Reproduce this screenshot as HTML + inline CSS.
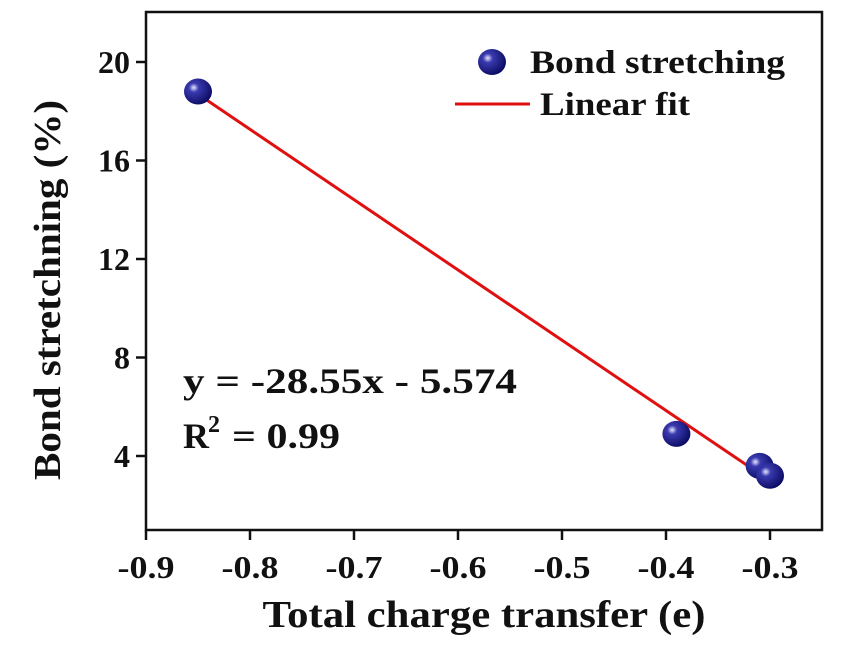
<!DOCTYPE html>
<html><head><meta charset="utf-8"><style>body{margin:0;background:#fff}svg{display:block}text{font-family:"Liberation Serif",serif;font-weight:bold;fill:#111}</style></head>
<body>
<svg id="c" width="862" height="654">
<defs><radialGradient id="g" cx="0.35" cy="0.35" r="0.7"><stop offset="0" stop-color="#e8e8ff"/><stop offset="0.25" stop-color="#3a3ab0"/><stop offset="1" stop-color="#0a0a60"/></radialGradient></defs>
<g id="plot"></g>
</svg>
<script>
const xs=[-0.85,-0.39,-0.31,-0.30];
const ys=[18.8,4.9,3.6,3.2];
const xTicks=[-0.9,-0.8,-0.7,-0.6,-0.5,-0.4,-0.3];
const yTicks=[4,8,12,16,20];
const slope=-28.55, intercept=-5.574;
const X=v=>146+(v+0.9)*(770-146)/0.6;
const Y=v=>456-(v-4)*(456-62)/16;
const NS='http://www.w3.org/2000/svg';
const p=document.getElementById('plot');
function mk(t,a,txt){const e=document.createElementNS(NS,t);for(const k in a)e.setAttribute(k,a[k]);if(txt!==undefined)e.textContent=txt;p.appendChild(e);return e;}
let e=mk('rect',{x:146,y:12,width:676,height:518,fill:'none',stroke:'#111','stroke-width':2.5});

xTicks.forEach(t=>{let l=mk('line',{x1:X(t),x2:X(t),y1:530,y2:540,stroke:'#111','stroke-width':2.5});

let s=mk('text',{x:X(t),y:578,'font-size':32,'text-anchor':'middle',textLength:57,lengthAdjust:'spacingAndGlyphs'},t.toFixed(1));
});
yTicks.forEach(t=>{let l=mk('line',{x1:136,x2:146,y1:Y(t),y2:Y(t),stroke:'#111','stroke-width':2.5});

let s=mk('text',{x:130,y:Y(t)+11,'font-size':32,'text-anchor':'end'},String(t));
});
e=mk('text',{x:484,y:627,'font-size':38,'text-anchor':'middle',textLength:443,lengthAdjust:'spacingAndGlyphs'},'Total charge transfer (e)');

e=mk('text',{x:0,y:0,'font-size':38,'text-anchor':'middle',textLength:380,lengthAdjust:'spacingAndGlyphs',transform:'translate(60,290) rotate(-90)'},'Bond stretchning (%)');

const x0=Math.min(...xs),x1=Math.max(...xs);
e=mk('line',{x1:X(x0),y1:Y(slope*x0+intercept),x2:X(x1),y2:Y(slope*x1+intercept),stroke:'#e01010','stroke-width':3});

xs.forEach((v,i)=>{let c=mk('ellipse',{cx:X(v),cy:Y(ys[i]),rx:14,ry:13,fill:'url(#g)'});
});
e=mk('ellipse',{cx:492,cy:62,rx:14,ry:13,fill:'url(#g)'});

e=mk('text',{x:530,y:73,'font-size':33,textLength:255,lengthAdjust:'spacingAndGlyphs'},'Bond stretching');

e=mk('line',{x1:455,x2:530,y1:104,y2:104,stroke:'#e01010','stroke-width':3});

e=mk('text',{x:540,y:115,'font-size':33,textLength:150,lengthAdjust:'spacingAndGlyphs'},'Linear fit');

e=mk('text',{x:183,y:393,'font-size':36,textLength:334,lengthAdjust:'spacingAndGlyphs'},'y = -28.55x - 5.574');

e=mk('text',{x:183,y:448,'font-size':36},'R');

e=mk('text',{x:208,y:432,'font-size':24},'2');

e=mk('text',{x:232,y:448,'font-size':36,textLength:108,lengthAdjust:'spacingAndGlyphs'},'= 0.99');

</script>
</body></html>
